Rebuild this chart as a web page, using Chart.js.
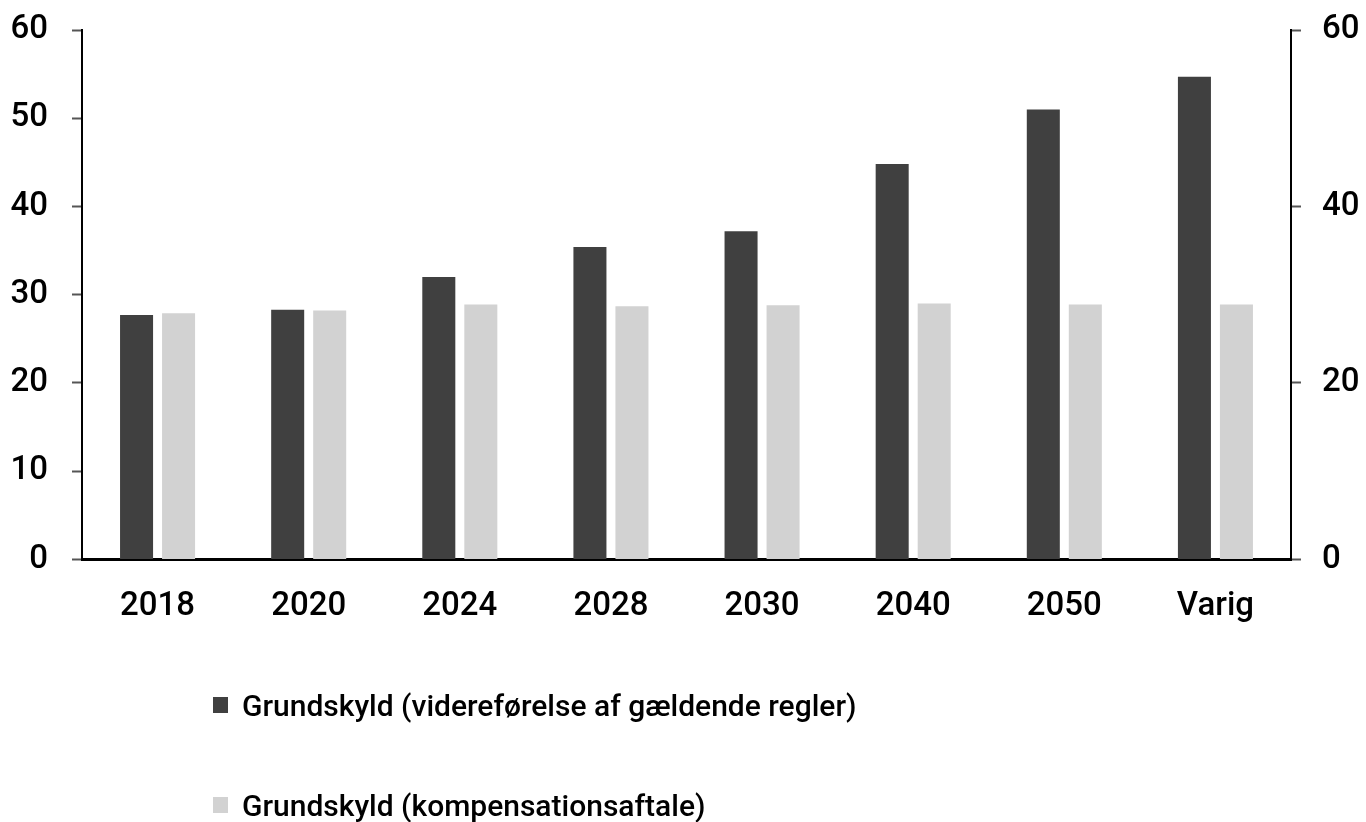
<!DOCTYPE html>
<html>
<head>
<meta charset="utf-8">
<script src="https://cdn.jsdelivr.net/npm/chart.js@4/dist/chart.umd.min.js"></script>
<style>
  html, body { margin: 0; padding: 0; background: #fff; }
  #wrap { position: relative; width: 1366px; height: 822px; overflow: hidden; }
  #myChart { position: absolute; left: 0; top: 0; }
  .legend-item { position: absolute; left: 213px; height: 40px; display: flex; align-items: center;
    font-family: Roboto, "Liberation Sans", sans-serif; font-size: 30px; font-weight: 500; color: #000; }
  .legend-box { width: 15px; height: 16px; margin-right: 14px; }
</style>
</head>
<body>
<div id="wrap">
  <canvas id="myChart" width="1366" height="822"></canvas>
  <div id="legend"></div>
</div>
<script>
const categories = ['2018', '2020', '2024', '2028', '2030', '2040', '2050', 'Varig'];
const seriesNames = ['Grundskyld (videreførelse af gældende regler)', 'Grundskyld (kompensationsaftale)'];
const currentRules = [27.7, 28.3, 32.0, 35.4, 37.2, 44.8, 51.0, 54.7];
const compensation = [27.9, 28.2, 28.9, 28.7, 28.8, 29.0, 28.9, 28.9];
const leftTicks = [0, 10, 20, 30, 40, 50, 60];
const rightTicks = [0, 20, 40, 60];

const colors = ['#404040', '#d2d2d2'];
const tickFont = { family: 'Roboto, "Liberation Sans", sans-serif', size: 33, weight: '500' };

// fixed axis widths, and let the top label hang over the chart edge
function fitAxis(width) {
  return function(axis) {
    axis.width = width;
    axis.paddingTop = 0;
    axis.paddingBottom = 0;
  };
}

function initChart() {
  const ctx = document.getElementById('myChart').getContext('2d');

  // eslint-disable-next-line no-undef
  return new Chart(ctx, {
    type: 'bar',
    data: {
      labels: categories,
      datasets: [{
        label: seriesNames[0],
        backgroundColor: colors[0],
        data: currentRules,
        yAxisID: 'y',
      },
      {
        label: seriesNames[1],
        backgroundColor: colors[1],
        data: compensation,
        yAxisID: 'y',
      }]
    },
    options: {
      responsive: false,
      animation: false,
      layout: { padding: { left: 0, right: 0, top: 30, bottom: 167 } },
      categoryPercentage: 0.556,
      barPercentage: 0.786,
      plugins: {
        legend: { display: false },
        tooltip: { enabled: false },
      },
      scales: {
        x: {
          grid: { display: false, drawTicks: false },
          border: { color: '#000', width: 3 },
          ticks: { color: '#000', font: tickFont, padding: 28 },
        },
        y: {
          position: 'left',
          min: 0,
          max: 60,
          afterBuildTicks: (axis) => { axis.ticks = leftTicks.map(v => ({ value: v })); },
          afterFit: fitAxis(82),
          grid: { drawOnChartArea: false, tickLength: 10, tickColor: '#555', tickWidth: 2 },
          border: { color: '#000', width: 2 },
          ticks: { color: '#000', font: tickFont, padding: 24 },
        },
        y1: {
          position: 'right',
          min: 0,
          max: 60,
          afterBuildTicks: (axis) => { axis.ticks = rightTicks.map(v => ({ value: v })); },
          afterFit: fitAxis(75),
          grid: { drawOnChartArea: false, tickLength: 10, tickColor: '#555', tickWidth: 2 },
          border: { color: '#000', width: 2 },
          ticks: { color: '#000', font: tickFont, padding: 21 },
        },
      },
    },
  });
}

const chart = initChart();

// legend below the chart, one item per row
const legendEl = document.getElementById('legend');
const legendTops = [685, 785];
chart.data.datasets.forEach(function(ds, i) {
  const item = document.createElement('div');
  item.className = 'legend-item';
  item.style.top = legendTops[i] + 'px';
  const box = document.createElement('span');
  box.className = 'legend-box';
  box.style.background = ds.backgroundColor;
  const text = document.createElement('span');
  text.textContent = ds.label;
  item.appendChild(box);
  item.appendChild(text);
  legendEl.appendChild(item);
});
</script>
</body>
</html>
